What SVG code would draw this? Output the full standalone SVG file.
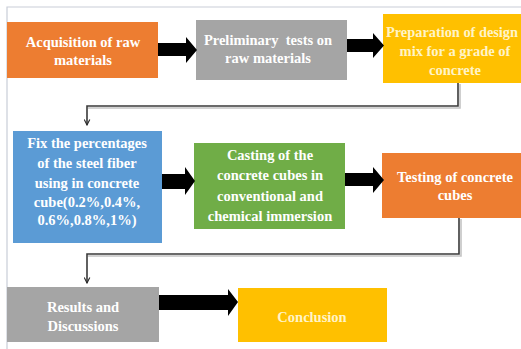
<svg xmlns="http://www.w3.org/2000/svg" width="521" height="349" viewBox="0 0 521 349">
  <style>
    .lbl { font-family: "Liberation Serif", "DejaVu Serif", serif; font-weight: bold; font-size: 14.5px; fill: #ffffff; text-anchor: middle; }
    .lbl-y { fill: #fff4c8; }
    .orange { fill: #ED7D31; }
    .gray { fill: #A5A5A5; }
    .yellow { fill: #FFC000; }
    .blue { fill: #5B9BD5; }
    .green { fill: #70AD47; }
    .block { fill: #000000; }
    .link { fill: none; stroke: #3a3a3a; stroke-width: 1.6; }
    .link-shadow { fill: none; stroke: #c4c4c4; stroke-width: 1.6; }
    .frame { stroke: #c9cdd8; stroke-width: 1.2; fill: none; }
  </style>
  <defs>
    <marker id="vhead" viewBox="0 0 10 10" refX="9" refY="5" markerWidth="7" markerHeight="7" orient="auto" markerUnits="userSpaceOnUse">
      <path d="M1,1 L9,5 L1,9" fill="none" stroke="#2a2a2a" stroke-width="1.6"/>
    </marker>
  </defs>

  <rect width="521" height="349" fill="#ffffff"/>
  <path class="frame" d="M7,349 V7 H521"/>

  <g id="n1">
    <rect class="orange" x="7" y="22" width="151" height="56"/>
    <text class="lbl" x="83" y="47">Acquisition of raw</text>
    <text class="lbl" x="83" y="65">materials</text>
  </g>

  <g id="n2">
    <rect class="gray" x="196" y="20" width="151" height="60"/>
    <text class="lbl" x="268" y="45" xml:space="preserve">Preliminary  tests on</text>
    <text class="lbl" x="268" y="63">raw materials</text>
  </g>

  <g id="n3">
    <rect class="yellow" x="383" y="14" width="138" height="69"/>
    <text class="lbl lbl-y" x="452" y="37" textLength="132" lengthAdjust="spacingAndGlyphs">Preparation of design</text>
    <text class="lbl lbl-y" x="455" y="56">mix for a grade of</text>
    <text class="lbl lbl-y" x="455" y="75">concrete</text>
  </g>

  <g id="n4">
    <rect class="blue" x="13" y="131" width="149" height="112"/>
    <text class="lbl" x="87" y="148">Fix the percentages</text>
    <text class="lbl" x="87" y="168">of the steel fiber</text>
    <text class="lbl" x="87" y="188">using in concrete</text>
    <text class="lbl" x="87" y="207">cube(0.2%,0.4%,</text>
    <text class="lbl" x="87" y="225">0.6%,0.8%,1%)</text>
  </g>

  <g id="n5">
    <rect class="green" x="194" y="143" width="151" height="86"/>
    <text class="lbl" x="270" y="160">Casting of the</text>
    <text class="lbl" x="270" y="180">concrete cubes in</text>
    <text class="lbl" x="270" y="201">conventional and</text>
    <text class="lbl" x="270" y="221">chemical immersion</text>
  </g>

  <g id="n6">
    <rect class="orange" x="382" y="153" width="139" height="65"/>
    <text class="lbl" x="455" y="182">Testing of concrete</text>
    <text class="lbl" x="455" y="200">cubes</text>
  </g>

  <g id="n7">
    <rect class="gray" x="7" y="287" width="152" height="55"/>
    <text class="lbl" x="83" y="312">Results and</text>
    <text class="lbl" x="83" y="331">Discussions</text>
  </g>

  <g id="n8">
    <rect class="yellow" x="238" y="288" width="149" height="54"/>
    <text class="lbl lbl-y" x="312" y="322">Conclusion</text>
  </g>

  <g id="connectors">
    <!-- thick block arrows between neighbouring steps -->
    <polygon class="block" points="158,43 186,43 186,37 197,50 186,63 186,56 158,56"/>
    <polygon class="block" points="347,39 373,39 373,33 384,45.5 373,58 373,52 347,52"/>
    <polygon class="block" points="162,174 185,174 185,167 195,181 185,195 185,189 162,189"/>
    <polygon class="block" points="345,173 373,173 373,167 384,180 373,193 373,186 345,186"/>
    <polygon class="block" points="159,295 228,295 228,289 238,302 228,316 228,310 159,310"/>

    <!-- elbow links that wrap to the next row -->
    <path class="link-shadow" d="M460,84 V108 H88"/>
    <path class="link" d="M458,83 V106 H87 V125" marker-end="url(#vhead)"/>
    <path class="link-shadow" d="M461,219 V256 H88"/>
    <path class="link" d="M459,218 V254 H87 V283" marker-end="url(#vhead)"/>
  </g>
</svg>
